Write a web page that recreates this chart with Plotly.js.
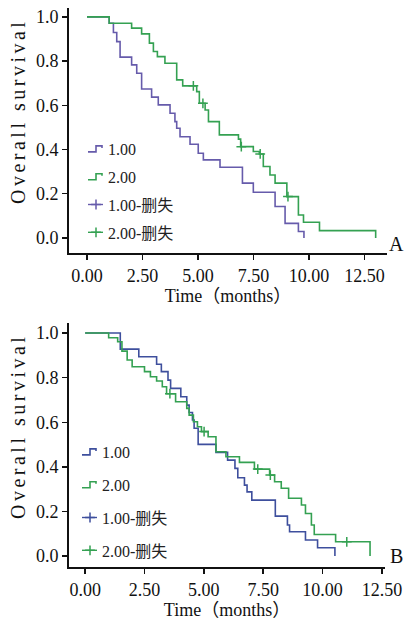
<!DOCTYPE html>
<html>
<head>
<meta charset="utf-8">
<script src="https://cdn.plot.ly/plotly-3.0.1.min.js"></script>
<style>html,body{margin:0;padding:0;background:#fff}#chart{width:406px;height:622px}</style>
</head>
<body>
<div id="chart"></div>
<script>
// Panel A
const timeA1 = [0,1.0,1.19,1.34,1.49,2.01,2.24,2.46,2.91,3.21,3.74,3.96,4.04,4.19,4.64,5.01,5.24,5.99,7.0,7.49,8.47,8.92,9.52,9.77];
const survA1 = [1,0.971,0.929,0.888,0.818,0.783,0.745,0.674,0.637,0.602,0.564,0.526,0.496,0.458,0.424,0.383,0.353,0.320,0.248,0.207,0.142,0.066,0.029,0];
const timeA2 = [0,1.0,2.01,2.46,2.81,2.99,3.17,3.51,4.04,4.31,4.94,5.06,5.32,5.47,5.96,6.82,6.92,7.49,7.76,7.94,8.24,8.47,9.0,9.52,9.75,10.47,13.0];
const survA2 = [1,0.971,0.949,0.923,0.881,0.843,0.820,0.790,0.715,0.688,0.662,0.609,0.579,0.526,0.466,0.447,0.413,0.391,0.380,0.323,0.285,0.248,0.187,0.104,0.071,0.033,0];
const censorTimeA1 = [];
const censorSurvA1 = [];
const censorTimeA2 = [4.79,5.22,6.95,7.80,9.05];
const censorSurvA2 = [0.688,0.609,0.413,0.380,0.187];
// Panel B
const timeB1 = [0,1.48,2.26,3.01,3.21,3.49,3.60,4.03,4.28,4.38,4.52,4.59,4.76,5.51,6.00,6.31,6.43,6.71,6.82,7.02,8.01,8.52,8.61,9.28,9.79,10.52];
const survB1 = [1,0.928,0.894,0.860,0.827,0.789,0.752,0.714,0.677,0.644,0.610,0.573,0.501,0.465,0.430,0.393,0.351,0.318,0.288,0.251,0.179,0.139,0.109,0.072,0.037,0];
const timeB2 = [0,0.99,1.37,1.55,1.77,1.98,2.50,2.75,3.01,3.25,3.43,3.81,4.28,4.38,4.56,4.73,4.90,5.18,5.51,5.93,6.50,7.13,7.77,7.98,8.26,8.57,9.11,9.28,9.53,9.65,10.55,12.0];
const survB2 = [1,0.979,0.961,0.919,0.879,0.849,0.827,0.804,0.785,0.759,0.728,0.692,0.662,0.632,0.602,0.580,0.558,0.535,0.468,0.445,0.420,0.390,0.363,0.333,0.304,0.259,0.229,0.191,0.139,0.097,0.064,0];
const censorTimeB1 = [];
const censorSurvB1 = [];
const censorTimeB2 = [3.57,5.01,7.27,7.80,11.02];
const censorSurvB2 = [0.728,0.558,0.390,0.363,0.064];

const seriesNames = ['1.00','2.00','1.00-删失','2.00-删失'];
const xTicks = [0,2.5,5,7.5,10,12.5];
const xTickText = ['0.00','2.50','5.00','7.50','10.00','12.50'];
const yTicks = [0,0.2,0.4,0.6,0.8,1.0];
const yTickText = ['0.0','0.2','0.4','0.6','0.8','1.0'];
const panelLabels = ['A','B'];
const xTitle = 'Time（months）';
const yTitle = 'Overall survival';

const SERIF = 'Liberation Serif, Times New Roman, Noto Sans CJK SC, serif';
const colA1 = '#665bab', colB1 = '#3e4f9d', colG = '#34a152';

function stepTrace(x, y, name, color, xa, ya, leg) {
  return {x, y, name, type:'scatter', mode:'lines', line:{shape:'hv', color, width:1.6},
          xaxis:xa, yaxis:ya, legend:leg, legendgroup:leg+name, hoverinfo:'skip'};
}
// censor marks: points separated by gaps so no connecting line is drawn,
// while the legend shows the line-with-cross icon
function withGaps(arr) {
  const out = [];
  arr.forEach((v, i) => { if (i) out.push(null); out.push(v); });
  return out.length ? out : [null];
}
function censorTrace(x, y, name, color, xa, ya, leg) {
  return {x:withGaps(x), y:withGaps(y), name, type:'scatter', mode:'lines+markers', connectgaps:false,
          line:{color, width:1.4},
          marker:{symbol:'cross-thin', size:7, color, line:{color, width:1.5}},
          xaxis:xa, yaxis:ya, legend:leg, legendgroup:leg+name, hoverinfo:'skip'};
}

const data = [
  stepTrace(timeA1, survA1, seriesNames[0], colA1, 'x', 'y', 'legend'),
  stepTrace(timeA2, survA2, seriesNames[1], colG, 'x', 'y', 'legend'),
  censorTrace(censorTimeA1, censorSurvA1, seriesNames[2], colA1, 'x', 'y', 'legend'),
  censorTrace(censorTimeA2, censorSurvA2, seriesNames[3], colG, 'x', 'y', 'legend'),
  stepTrace(timeB1, survB1, seriesNames[0], colB1, 'x2', 'y2', 'legend2'),
  stepTrace(timeB2, survB2, seriesNames[1], colG, 'x2', 'y2', 'legend2'),
  censorTrace(censorTimeB1, censorSurvB1, seriesNames[2], colB1, 'x2', 'y2', 'legend2'),
  censorTrace(censorTimeB2, censorSurvB2, seriesNames[3], colG, 'x2', 'y2', 'legend2')
];

const W = 406, H = 622;
const px = v => v / W, py = v => 1 - v / H;

function xAxis(range, dom, anchor) {
  return {domain:dom, range, anchor, showgrid:false, zeroline:false, showline:true,
          linecolor:'#111', linewidth:2, ticks:'outside', ticklen:5, tickwidth:1.5, tickcolor:'#111',
          tickvals:xTicks, ticktext:xTickText, tickfont:{family:SERIF, size:18, color:'#111'},
          title:{text:xTitle, font:{family:SERIF, size:18, color:'#111'}, standoff:4}};
}
function yAxis(range, dom, anchor) {
  return {domain:dom, range, anchor, showgrid:false, zeroline:false, showline:true,
          linecolor:'#111', linewidth:2, ticks:'outside', ticklen:5, tickwidth:1.5, tickcolor:'#111',
          tickvals:yTicks, ticktext:yTickText, tickfont:{family:SERIF, size:18, color:'#111'}};
}
function legendCfg(x, y, gap) {
  return {x, y, xanchor:'left', yanchor:'top', bgcolor:'rgba(0,0,0,0)', borderwidth:0,
          font:{family:SERIF, size:16, color:'#222'}, traceorder:'grouped', tracegroupgap:gap,
          itemwidth:30};
}

const layout = {
  width:W, height:H, margin:{l:0,r:0,t:0,b:0}, paper_bgcolor:'#fff', plot_bgcolor:'#fff',
  showlegend:true,
  xaxis: xAxis([-0.81, 13.51], [px(69), px(387)], 'y'),
  yaxis: yAxis([-0.068, 1.04], [py(253), py(8)], 'x'),
  xaxis2: xAxis([-0.68, 12.63], [px(69), px(385)], 'y2'),
  yaxis2: yAxis([-0.049, 1.045], [py(567), py(323)], 'x2'),
  legend: legendCfg(px(68), py(132), 4),
  legend2: legendCfg(px(62), py(435), 9),
  annotations: [
    {text:yTitle, xref:'paper', yref:'paper', x:px(18), y:py(111), xanchor:'center', yanchor:'middle',
     textangle:-90, showarrow:false, font:{family:SERIF, size:20, color:'#111'}},
    {text:yTitle, xref:'paper', yref:'paper', x:px(18), y:py(426), xanchor:'center', yanchor:'middle',
     textangle:-90, showarrow:false, font:{family:SERIF, size:20, color:'#111'}},
    {text:panelLabels[0], xref:'paper', yref:'paper', x:px(396), y:py(244), xanchor:'center', yanchor:'middle',
     showarrow:false, font:{family:SERIF, size:20, color:'#111'}},
    {text:panelLabels[1], xref:'paper', yref:'paper', x:px(396), y:py(556), xanchor:'center', yanchor:'middle',
     showarrow:false, font:{family:SERIF, size:20, color:'#111'}}
  ]
};

function restyleDecor(gd) {
  // the reference sets the vertical titles with wide letter spacing
  gd.querySelectorAll('.annotation-text').forEach(t => {
    if (t.textContent === yTitle) t.style.letterSpacing = '3.5px';
  });
  // legend icons as in the reference: short step glyph for curves, short line + cross for censoring
  gd.querySelectorAll('g.traces').forEach(item => {
    const txt = item.querySelector('text');
    if (!txt) return;
    const isCensor = txt.textContent.indexOf('删失') >= 0;
    item.querySelectorAll('path.js-line').forEach(p => {
      p.setAttribute('d', isCensor ? 'M20,0h15' : 'M20,3h8v-6h6v2');
    });
    if (isCensor) {
      item.querySelectorAll('path.scatterpts').forEach(p => {
        p.setAttribute('transform', 'translate(28,0)');
      });
    }
  });
}

const gd = document.getElementById('chart');
Plotly.newPlot(gd, data, layout, {displayModeBar:false, staticPlot:true}).then(() => {
  restyleDecor(gd);
  gd.on('plotly_afterplot', () => restyleDecor(gd));
  requestAnimationFrame(() => restyleDecor(gd));
  setTimeout(() => restyleDecor(gd), 30);
});
</script>
</body>
</html>
